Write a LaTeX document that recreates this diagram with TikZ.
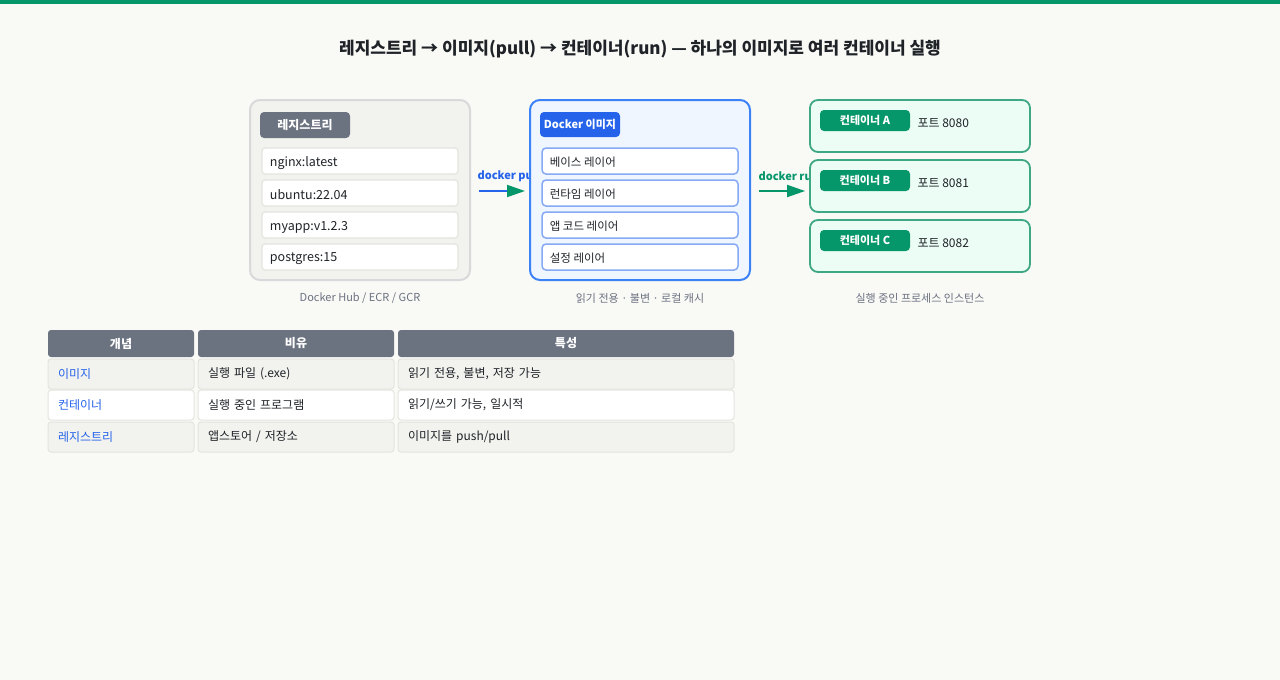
\documentclass[tikz,border=0pt]{standalone}
\usepackage{fontspec}
\setmainfont{Noto Sans CJK KR}
\usetikzlibrary{arrows.meta}
\definecolor{pagebg}{HTML}{F9F9F6}
\definecolor{dgreen}{HTML}{059669}
\definecolor{lgreen}{HTML}{ECFDF5}
\definecolor{mgreen}{HTML}{3DA883}
\definecolor{dblue}{HTML}{2563EB}
\definecolor{mblue}{HTML}{3B82F6}
\definecolor{lblue}{HTML}{EFF6FF}
\definecolor{layerblue}{HTML}{85AAF5}
\definecolor{slate}{HTML}{6B7280}
\definecolor{greyfill}{HTML}{F2F2EE}
\definecolor{greyline}{HTML}{D8D9DB}
\definecolor{itemline}{HTML}{E4E4DF}
\definecolor{ink}{HTML}{1F2328}
\tikzset{
  >={latex},
  title/.style={font=\fontsize{17}{20}\selectfont\bfseries, text=ink},
  panel/.style={rounded corners=10pt, line width=2pt, minimum width=220pt, minimum height=180pt},
  tag/.style={rounded corners=4pt, text=white, font=\fontsize{11}{13}\selectfont\bfseries},
  item/.style={draw=itemline, fill=white, rounded corners=3pt, line width=1.2pt, minimum width=196pt, minimum height=26pt},
  itemtext/.style={anchor=west, text=ink, font=\fontsize{12.5}{15}\selectfont},
  layer/.style={draw=layerblue, fill=white, rounded corners=4pt, line width=1.5pt, minimum width=196pt, minimum height=26pt},
  layertext/.style={anchor=west, text=ink, font=\fontsize{11.5}{14}\selectfont},
  cbox/.style={draw=mgreen, fill=lgreen, rounded corners=8pt, line width=1.8pt, minimum width=220pt, minimum height=52pt},
  porttext/.style={anchor=west, text=ink, font=\fontsize{12}{14}\selectfont},
  caption/.style={text=slate, font=\fontsize{11}{13}\selectfont},
  flowlabel/.style={anchor=west, font=\fontsize{11}{13}\selectfont\bfseries},
  flow/.style={line width=1.8pt, -{Triangle[length=18pt,width=12pt,color=dgreen]}},
  head/.style={fill=slate, rounded corners=3pt, minimum height=27pt, text=white, font=\fontsize{12}{14}\selectfont\bfseries, align=center},
  cell/.style={draw=itemline, line width=1pt, rounded corners=3pt, minimum height=30pt, inner xsep=10pt, align=left, text=ink, font=\fontsize{12}{14}\selectfont}
}
\begin{document}
\begin{tikzpicture}[x=1pt,y=-1pt]
  \useasboundingbox[fill=pagebg] (0,0) rectangle (1280,680);
  \fill[dgreen] (0,0) rectangle (1280,4);
  \node[title] (heading) at (640,49) {레지스트리 → 이미지(pull) → 컨테이너(run) — 하나의 이미지로 여러 컨테이너 실행};

  \node[panel, draw=greyline, fill=greyfill] (registry) at (360,190) {};
  \node[tag, fill=slate, minimum width=90pt, minimum height=26pt, font=\fontsize{12}{14}\selectfont\bfseries] (regtag) at (305,125) {레지스트리};
  \node[item] (r1) at (360,161) {};
  \node[item] (r2) at (360,193) {};
  \node[item] (r3) at (360,225) {};
  \node[item] (r4) at (360,257) {};
  \node[itemtext] at ([xshift=5pt,yshift=-2pt]r1.west) {nginx:latest};
  \node[itemtext] at ([xshift=5pt,yshift=-2pt]r2.west) {ubuntu:22.04};
  \node[itemtext] at ([xshift=5pt,yshift=-2pt]r3.west) {myapp:v1.2.3};
  \node[itemtext] at ([xshift=5pt,yshift=-2pt]r4.west) {postgres:15};
  \node[caption] (regcap) at (360,298) {Docker Hub / ECR / GCR};

  \node[flowlabel, text=dblue] (pulllabel) at (474,176) {docker pull};

  \node[panel, draw=mblue, fill=lblue] (image) at (640,190) {};
  \node[tag, fill=dblue, minimum width=80pt, minimum height=25pt] (imgtag) at (580,124.5) {Docker 이미지};
  \node[layer] (l1) at (640,161) {};
  \node[layer] (l2) at (640,193) {};
  \node[layer] (l3) at (640,225) {};
  \node[layer] (l4) at (640,257) {};
  \node[layertext] at ([xshift=5pt,yshift=-1.5pt]l1.west) {베이스 레이어};
  \node[layertext] at ([xshift=5pt,yshift=-1.5pt]l2.west) {런타임 레이어};
  \node[layertext] at ([xshift=5pt,yshift=-1.5pt]l3.west) {앱 코드 레이어};
  \node[layertext] at ([xshift=5pt,yshift=-1.5pt]l4.west) {설정 레이어};
  \node[caption] (imgcap) at (640,298) {읽기 전용 · 불변 · 로컬 캐시};

  \node[flowlabel, text=dgreen] (runlabel) at (755,176) {docker run};

  \node[cbox] (ca) at (920,126) {};
  \node[cbox] (cb) at (920,186) {};
  \node[cbox] (cc) at (920,246) {};
  \node[tag, fill=dgreen, minimum width=90pt, minimum height=21pt] (ta) at (865,120.5) {컨테이너 A};
  \node[tag, fill=dgreen, minimum width=90pt, minimum height=21pt] (tb) at (865,180.5) {컨테이너 B};
  \node[tag, fill=dgreen, minimum width=90pt, minimum height=21pt] (tc) at (865,240.5) {컨테이너 C};
  \node[porttext] (pa) at (914,123) {포트 8080};
  \node[porttext] (pb) at (914,183) {포트 8081};
  \node[porttext] (pc) at (914,243) {포트 8082};
  \node[caption] (ctcap) at (920,298) {실행 중인 프로세스 인스턴스};

  \draw[flow, draw=dblue] ([xshift=8pt,yshift=-1pt]registry.east) -- ([xshift=-4pt,yshift=-1pt]image.west);
  \draw[flow, draw=dgreen] ([xshift=8pt,yshift=-1pt]image.east) -- ([xshift=-4pt,yshift=-1pt]image.east -| cb.west);

  \node[head, minimum width=146pt] (h1) at (121,343.5) {개념};
  \node[head, minimum width=196pt] (h2) at (296,343.5) {비유};
  \node[head, minimum width=336pt] (h3) at (566,343.5) {특성};

  \node[cell, fill=greyfill, text width=126pt, text=dblue] (a1) at (121,374) {이미지};
  \node[cell, fill=greyfill, text width=176pt] (a2) at (296,374) {실행 파일 (.exe)};
  \node[cell, fill=greyfill, text width=316pt] (a3) at (566,374) {읽기 전용, 불변, 저장 가능};
  \node[cell, fill=white, text width=126pt, text=dblue] (b1) at (121,405) {컨테이너};
  \node[cell, fill=white, text width=176pt] (b2) at (296,405) {실행 중인 프로그램};
  \node[cell, fill=white, text width=316pt] (b3) at (566,405) {읽기/쓰기 가능, 일시적};
  \node[cell, fill=greyfill, text width=126pt, text=dblue] (c1) at (121,437) {레지스트리};
  \node[cell, fill=greyfill, text width=176pt] (c2) at (296,437) {앱스토어 / 저장소};
  \node[cell, fill=greyfill, text width=316pt] (c3) at (566,437) {이미지를 push/pull};
\end{tikzpicture}
\end{document}
